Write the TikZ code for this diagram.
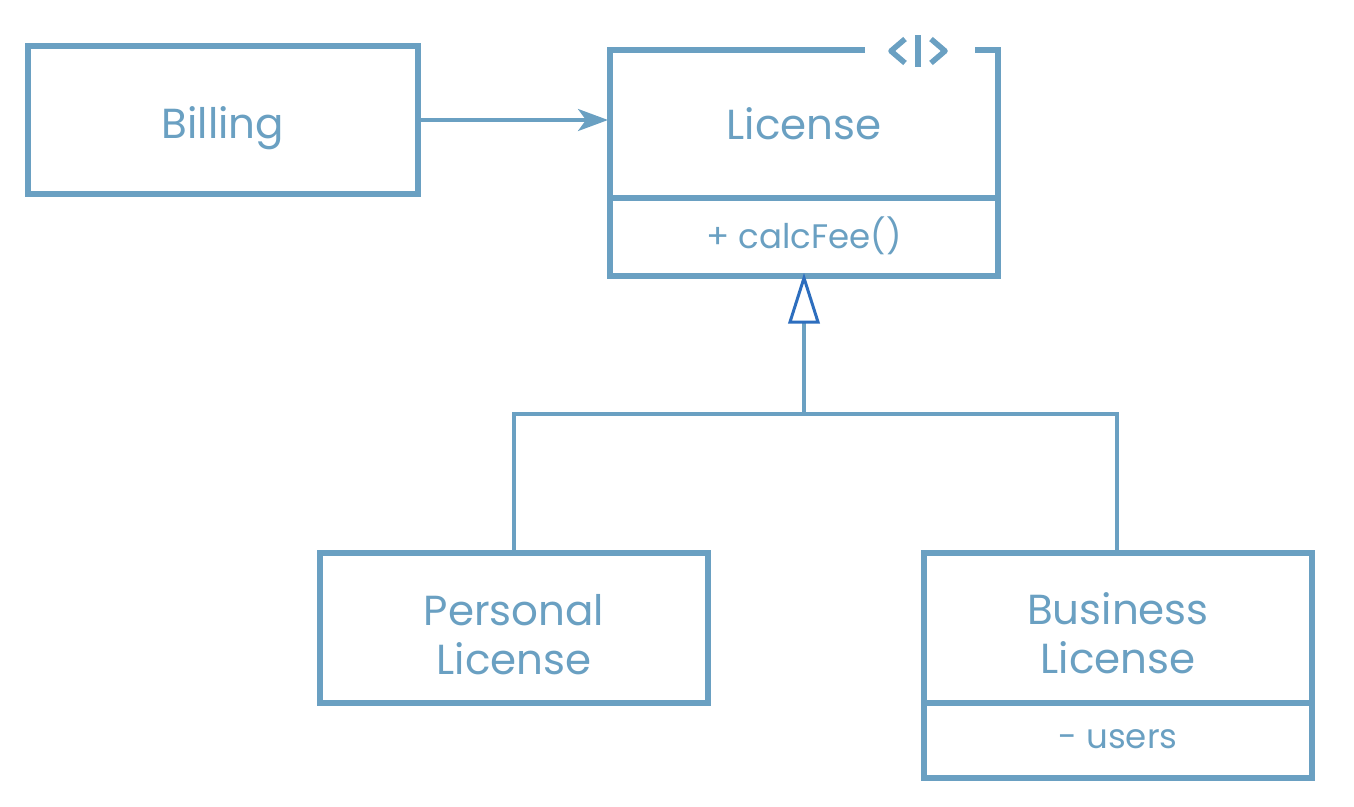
\documentclass[tikz,border=0pt]{standalone}
\usepackage{fontspec}
\setmainfont{Poppins}
\usetikzlibrary{arrows.meta}
\definecolor{umlblue}{RGB}{106,160,194}
\definecolor{tipblue}{RGB}{45,110,190}
\tikzset{
  cls/.style={draw=umlblue, line width=5.5pt, fill=white},
  divider/.style={draw=umlblue, line width=5.5pt},
  big/.style={text=umlblue, font=\fontsize{42}{49}\selectfont, align=center},
  small/.style={text=umlblue, font=\fontsize{34}{40}\selectfont},
  conn/.style={draw=umlblue, line width=3.5pt},
}
\begin{document}
\begin{tikzpicture}[x=1pt,y=-1pt]
\useasboundingbox (0,0) rectangle (1354,806);
% Billing
\draw[cls] (28,46) rectangle (418,194);
\node[big] (billing) at (223,128) {Billing};
\coordinate (bR) at (418,120);
% License
\draw[divider] (865,50) -- (610,50) -- (610,276) -- (998,276) -- (998,50) -- (975,50);
\draw[divider] (610,198) -- (998,198);
\draw[divider, line join=round] (905,39) -- (891,51) -- (905,63);
\draw[divider] (918,35) -- (918,67);
\draw[divider, line join=round] (931,39) -- (945,51) -- (931,63);
\node[big] (license) at (804,124) {License};
\node[small] (calc) at (804,236) {+ calcFee()};
\coordinate (lL) at (608,120);
\coordinate (lB) at (804,278);
% Personal
\draw[cls] (320,553) rectangle (708,703);
\node[big] (personal) at (514,635) {Personal\\License};
% Business
\draw[cls] (924,553) rectangle (1312,778);
\draw[divider] (924,703) -- (1312,703);
\node[big] (business) at (1118,633) {Business\\License};
\node[small] (users) at (1118,739) {- users};
% association
\draw[conn, -{Stealth[length=30pt,width=22pt,inset=8pt]}] (bR) -- (lL);
% generalization
\coordinate (tb) at (804,322);
\coordinate (j) at (804,414);
\coordinate (pj) at (514,414);
\coordinate (bj) at (1117,414);
\coordinate (pT) at (514,551);
\coordinate (bT) at (1117,551);
\draw[conn] (tb) -- (j);
\draw[conn] (pT) -- (pj) -- (bj) -- (bT);
\draw[draw=tipblue, line width=3pt, fill=white, line join=miter] (lB) -- (818,322) -- (790,322) -- cycle;
\end{tikzpicture}
\end{document}
